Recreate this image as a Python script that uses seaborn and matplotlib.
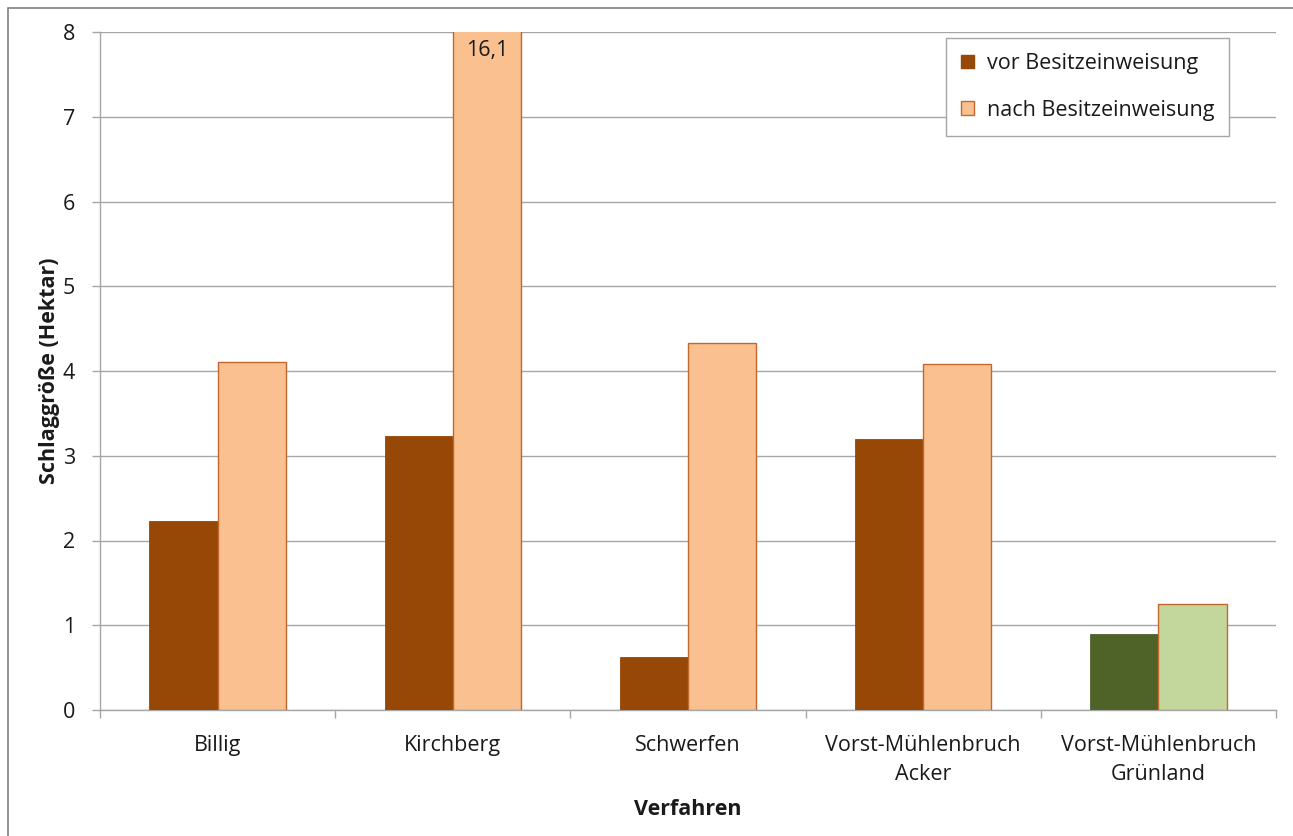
import matplotlib
matplotlib.use("Agg")
import matplotlib.pyplot as plt
from matplotlib.patches import Rectangle, Patch
from matplotlib.ticker import FixedLocator, NullFormatter
import seaborn as sns
import pandas as pd

# Field sizes (hectares) per consolidation procedure, before/after allocation
verfahren = ["Billig", "Kirchberg", "Schwerfen",
             "Vorst-Mühlenbruch\nAcker", "Vorst-Mühlenbruch\nGrünland"]
vor_werte = [2.23, 3.23, 0.63, 3.20, 0.90]
nach_werte = [4.11, 16.1, 4.33, 4.08, 1.25]
serien = ["vor Besitzeinweisung", "nach Besitzeinweisung"]

df = pd.DataFrame({
    "Verfahren": verfahren * 2,
    "Wert": vor_werte + nach_werte,
    "Serie": [serien[0]] * len(verfahren) + [serien[1]] * len(verfahren),
})

sns.set_theme(style="white")
plt.rcParams["font.family"] = ["Open Sans", "DejaVu Sans"]

VOR = "#974706"
NACH = "#FAC090"
NACH_EDGE = "#C0682E"
GRUEN_VOR = "#4F6228"
GRUEN_NACH = "#C3D69B"
GRID = "#A6A6A6"
TXT = "#1a1a1a"
FS = 15.5

fig = plt.figure(figsize=(12.93, 8.36), dpi=100)
ax = fig.add_axes([100 / 1293, 1 - 710 / 836, 1176 / 1293, 678 / 836])

sns.barplot(data=df, x="Verfahren", y="Wert", hue="Serie", order=verfahren,
            hue_order=serien, palette=[VOR, NACH], width=0.58, gap=0,
            saturation=1, legend=False, ax=ax, zorder=3)

# style the bars: edges for the "nach" series, green tones for Grünland
n = len(verfahren)
for cont_idx, cont in enumerate(ax.containers):
    for i, bar in enumerate(cont):
        if cont_idx == 0:
            bar.set_edgecolor(VOR)
            bar.set_linewidth(0.6)
            if i == n - 1:
                bar.set_facecolor(GRUEN_VOR)
                bar.set_edgecolor(GRUEN_VOR)
        else:
            bar.set_edgecolor(NACH_EDGE)
            bar.set_linewidth(1.0)
            if i == n - 1:
                bar.set_facecolor(GRUEN_NACH)

# value label for the bar that exceeds the axis range
kb = ax.containers[1][1]
ax.text(kb.get_x() + kb.get_width() / 2, 7.91, f"{nach_werte[1]:.1f}".replace(".", ","),
        ha="center", va="top", fontsize=FS, color=TXT, zorder=5)

ax.set_ylim(0, 8)
ax.set_xlim(-0.5, n - 0.5)
ax.set_yticks(range(0, 9))
ax.yaxis.grid(True, color=GRID, linewidth=1.0, zorder=0)
ax.set_axisbelow(True)

for side in ["top", "right"]:
    ax.spines[side].set_visible(False)
for side in ["left", "bottom"]:
    ax.spines[side].set_color(GRID)
    ax.spines[side].set_linewidth(1.0)

ax.tick_params(axis="y", which="major", length=6, width=1.0, color=GRID,
               left=True, labelsize=FS, pad=12, labelcolor=TXT)
ax.set_xticks(range(n), verfahren, linespacing=1.5)
ax.tick_params(axis="x", which="major", length=0, labelsize=FS, pad=18,
               labelcolor=TXT)
ax.xaxis.set_minor_locator(FixedLocator([k - 0.5 for k in range(n + 1)]))
ax.xaxis.set_minor_formatter(NullFormatter())
ax.tick_params(axis="x", which="minor", length=6, width=1.0, color=GRID,
               bottom=True, direction="out")

ax.set_xlabel("Verfahren", fontsize=FS, fontweight="bold", labelpad=10,
              color=TXT)
ax.set_ylabel("Schlaggröße (Hektar)", fontsize=FS, fontweight="bold",
              labelpad=2, color=TXT)

handles = [Patch(facecolor=VOR, edgecolor=VOR),
           Patch(facecolor=NACH, edgecolor=NACH_EDGE)]
leg = ax.legend(handles, serien, loc="upper left",
                bbox_to_anchor=(946 / 1293, 1 - 38 / 836),
                bbox_transform=fig.transFigure, fontsize=FS, frameon=True,
                fancybox=False, edgecolor=GRID, framealpha=1,
                handlelength=0.6, handleheight=0.6, handletextpad=0.6,
                labelspacing=1.2, borderpad=0.7, borderaxespad=0)
leg.get_frame().set_linewidth(1.0)
for t in leg.get_texts():
    t.set_color(TXT)

# outer chart border
fig.patches.append(Rectangle((8 / 1293, -0.01), 1.02, 1 - 8 / 836 + 0.01,
                             transform=fig.transFigure, fill=False,
                             edgecolor="#808080", linewidth=1.2))

fig.savefig("out.png", dpi=100)
